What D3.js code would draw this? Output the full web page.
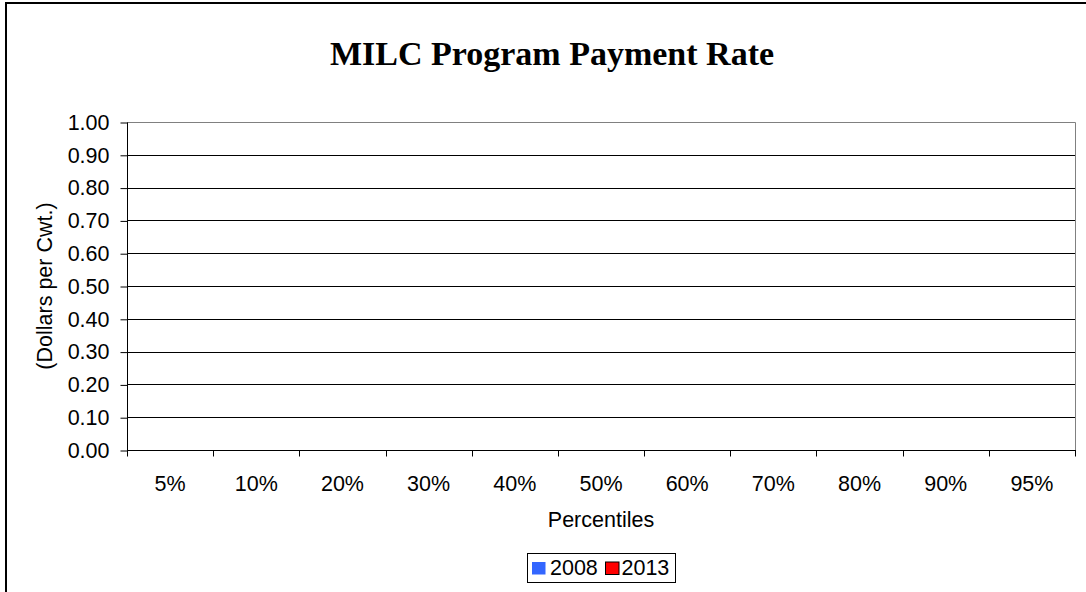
<!DOCTYPE html>
<html>
<head>
<meta charset="utf-8">
<script src="https://cdn.jsdelivr.net/npm/d3@7"></script>
<style>
  html, body { margin: 0; padding: 0; background: #fff; }
  svg { display: block; }
</style>
</head>
<body>
<svg id="chart" width="1086" height="592"></svg>
<script>
const categories = ["5%", "10%", "20%", "30%", "40%", "50%", "60%", "70%", "80%", "90%", "95%"];
const seriesNames = ["2008", "2013"];
const values2008 = [0, 0, 0, 0, 0, 0, 0, 0, 0, 0, 0];
const values2013 = [0, 0, 0, 0, 0, 0, 0, 0, 0, 0, 0];
const yTicks = [0, 0.1, 0.2, 0.3, 0.4, 0.5, 0.6, 0.7, 0.8, 0.9, 1.0];
const colors = ["#3366FF", "#FF0000"];

const svg = d3.select("#chart");
const L = 127, R = 1075, T = 122, B = 450;
const font = "Arial, 'Liberation Sans', sans-serif";

// outer chart border
svg.append("rect").attr("x", 6).attr("y", 3).attr("width", 1200).attr("height", 700)
  .attr("fill", "none").attr("stroke", "#000").attr("stroke-width", 2);

const x = d3.scaleBand().domain(categories).range([L, R]).paddingInner(0.5).paddingOuter(0.25);
const xs = d3.scaleBand().domain(seriesNames).range([0, x.bandwidth()]);
const y = d3.scaleLinear().domain([0, 1]).range([B, T]);

// gridlines
svg.append("g").selectAll("line").data(yTicks.filter(d => d > 0)).join("line")
  .attr("x1", L).attr("x2", R)
  .attr("y1", d => Math.round(y(d)) + 0.5).attr("y2", d => Math.round(y(d)) + 0.5)
  .attr("stroke", "#000").attr("stroke-width", 1);

// plot area border (top/right)
svg.append("path")
  .attr("d", `M${L},${T + 0.5}H${R + 0.5}V${B}`)
  .attr("fill", "none").attr("stroke", "#808080").attr("stroke-width", 1);

// bars
const data = [values2008, values2013];
data.forEach((vals, si) => {
  svg.append("g").selectAll("rect").data(vals).join("rect")
    .attr("x", (d, i) => x(categories[i]) + xs(seriesNames[si]))
    .attr("width", xs.bandwidth())
    .attr("y", d => y(d))
    .attr("height", d => B - y(d))
    .attr("fill", colors[si]);
});

// y axis
const yAxis = d3.axisLeft(y).tickValues(yTicks).tickFormat(d3.format(".2f")).tickSize(7).tickPadding(11);
const gy = svg.append("g").attr("transform", `translate(${L + 0.5},0.5)`).call(yAxis);
gy.select(".domain").attr("stroke", "#000").attr("d", `M0,${T}V${B}`);
gy.selectAll(".tick line").attr("stroke", "#000");
gy.selectAll(".tick text").attr("font-family", font).attr("font-size", "21.5px").attr("fill", "#000");

// x axis with ticks at category boundaries
const gx = svg.append("g").attr("transform", `translate(0,${B + 0.5})`);
gx.append("line").attr("x1", L).attr("x2", R + 1).attr("y1", 0).attr("y2", 0).attr("stroke", "#000");
const bounds = categories.map(c => x(c) - x.step() * x.paddingInner() / 2).concat([R]);
gx.selectAll("line.tk").data(bounds).join("line").attr("class", "tk")
  .attr("x1", d => Math.round(d) + 0.5).attr("x2", d => Math.round(d) + 0.5)
  .attr("y1", 0).attr("y2", 6).attr("stroke", "#000");
gx.selectAll("text").data(categories).join("text")
  .attr("x", d => x(d) + x.bandwidth() / 2).attr("y", 490 - B)
  .attr("text-anchor", "middle").attr("font-family", font).attr("font-size", "21.5px").attr("fill", "#000")
  .text(d => d);

// title
svg.append("text").attr("x", 552).attr("y", 65).attr("text-anchor", "middle")
  .attr("font-family", "'Times New Roman', 'Liberation Serif', serif").attr("font-weight", "bold")
  .attr("font-size", "34px").attr("fill", "#000").text("MILC Program Payment Rate");

// axis titles
svg.append("text").attr("x", (L + R) / 2).attr("y", 527).attr("text-anchor", "middle")
  .attr("font-family", font).attr("font-size", "21.5px").attr("fill", "#000").text("Percentiles");
svg.append("text").attr("transform", `translate(52,${(T + B) / 2}) rotate(-90)`)
  .attr("text-anchor", "middle").attr("font-family", font).attr("font-size", "21.5px").attr("fill", "#000")
  .text("(Dollars per Cwt.)");

// legend
const lg = svg.append("g");
lg.append("rect").attr("x", 527.5).attr("y", 553.5).attr("width", 148).attr("height", 29)
  .attr("fill", "#fff").attr("stroke", "#000").attr("stroke-width", 1);
const legendItems = [
  { name: seriesNames[0], color: colors[0], sx: 532, tx: 550, stroke: "none" },
  { name: seriesNames[1], color: colors[1], sx: 605.5, tx: 621.5, stroke: "#000" }
];
legendItems.forEach(it => {
  lg.append("rect").attr("x", it.sx).attr("y", 562).attr("width", 13.5).attr("height", 12.5)
    .attr("fill", it.color).attr("stroke", it.stroke).attr("stroke-width", 1);
  lg.append("text").attr("x", it.tx).attr("y", 575).attr("font-family", font).attr("font-size", "21.5px")
    .attr("fill", "#000").text(it.name);
});
</script>
</body>
</html>
